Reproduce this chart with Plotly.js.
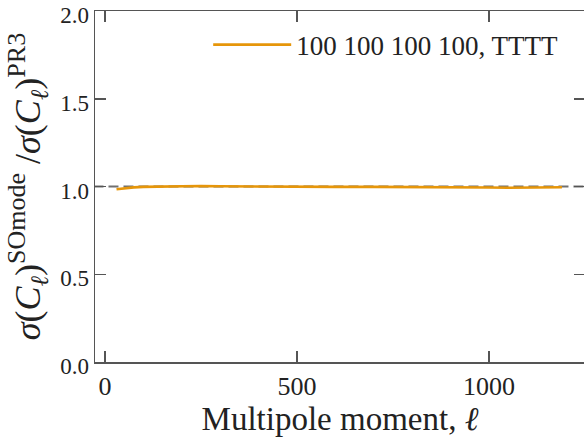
<!DOCTYPE html>
<html><head><meta charset="utf-8">
<script src="https://cdn.plot.ly/plotly-3.0.1.min.js"></script>
<style>html,body{margin:0;padding:0;overflow:hidden;background:#fff}</style>
</head><body><div id="chart"></div>
<script>
const ell = [30, 50, 75, 100, 150, 200, 250, 300, 400, 500, 600, 700, 800, 900, 950, 1000, 1050, 1100, 1150, 1190];
const ratio = [0.984, 0.990, 0.995, 0.998, 1.001, 1.003, 1.003, 1.001, 0.999, 0.998, 0.998, 0.998, 0.998, 0.997, 0.996, 0.994, 0.993, 0.994, 0.996, 0.996];
const refX = [-30, 1300];
const refY = [1.0, 1.0];
const seriesName = "100 100 100 100, TTTT";
const xTicks = [0, 500, 1000];
const yTicks = [0.0, 0.5, 1.0, 1.5, 2.0];

const font = "Liberation Serif";
const axColor = "#555";
const traces = [
  {x: refX, y: refY, mode: "lines", line: {color: "#707070", width: 2.2, dash: "10px,5px"}, showlegend: false, hoverinfo: "skip"},
  {x: ell, y: ratio, mode: "lines", name: seriesName, line: {color: "#E6960A", width: 2.6}}
];
const supS = s => `<sup><span style="font-size:26px">${s}</span></sup>`;
const layout = {
  width: 586, height: 438,
  margin: {l: 95, r: 1, t: 11, b: 76},
  paper_bgcolor: "#fff", plot_bgcolor: "#fff",
  font: {family: font, color: "#222", size: 24},
  showlegend: true,
  legend: {x: 0.231, y: 0.903, xanchor: "left", yanchor: "middle", bgcolor: "rgba(0,0,0,0)", font: {size: 27, family: font}, itemwidth: 78},
  xaxis: {
    range: [-26.04, 1250], tickvals: xTicks, ticktext: xTicks.map(String),
    ticks: "inside", ticklen: 11, tickwidth: 1.5, tickcolor: axColor,
    showline: true, linecolor: axColor, linewidth: 1.5, mirror: "allticks",
    showgrid: false, zeroline: false,
    tickfont: {size: 26, family: font},
    title: {text: "Multipole moment, <i>ℓ</i>", font: {size: 33, family: font}, standoff: 7}
  },
  yaxis: {
    range: [0, 2], tickvals: yTicks, ticktext: yTicks.map(v => v.toFixed(1)),
    ticks: "inside", ticklen: 11, tickwidth: 1.5, tickcolor: axColor,
    showline: true, linecolor: axColor, linewidth: 1.5, mirror: "allticks",
    showgrid: false, zeroline: false, ticklabeloverflow: "allow", ticklabelshift: 4,
    tickfont: {size: 23, family: font},
    title: {text: "<i>σ</i>(<i>C</i><sub><i>ℓ</i></sub>)" + supS("SOmode") + " /<i>σ</i>(<i>C</i><sub><i>ℓ</i></sub>)" + supS("PR3"), font: {size: 36, family: font}, standoff: 8}
  }
};
Plotly.newPlot("chart", traces, layout, {displayModeBar: false, staticPlot: true});
</script></body></html>
